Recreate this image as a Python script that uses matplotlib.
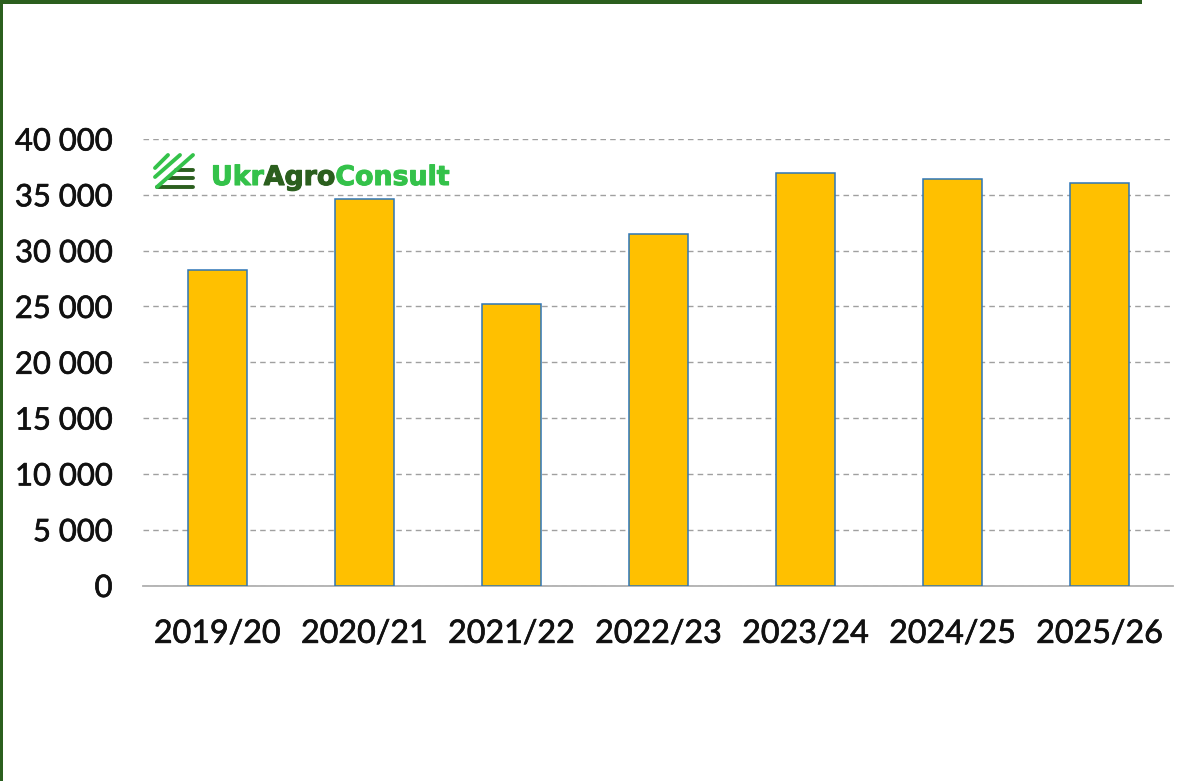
import matplotlib
matplotlib.use("Agg")
import matplotlib.pyplot as plt
import matplotlib.patheffects as pe
from matplotlib.lines import Line2D

# -----------------------------
# DATA
# -----------------------------
seasons = ["2019/20", "2020/21", "2021/22", "2022/23", "2023/24", "2024/25", "2025/26"]
values = [28270, 34630, 25220, 31500, 36960, 36420, 36070]
y_ticks = [0, 5000, 10000, 15000, 20000, 25000, 30000, 35000, 40000]
logo_parts = ["Ukr", "Agro", "Consult"]

W, H = 1188, 781
GREEN_DARK = "#2b5f1e"
GREEN_LIGHT = "#34c24a"

plt.rcParams["font.family"] = ["Lato", "DejaVu Sans"]

fig = plt.figure(figsize=(W / 100, H / 100), dpi=100, facecolor="white")
ax = fig.add_axes([143 / W, 1 - 585.5 / H, (1173 - 143) / W, (585.5 - 139) / H])

# -----------------------------
# BARS
# -----------------------------
ax.bar(seasons, values, width=0.4, color="#ffc000", edgecolor="#2e75b6", linewidth=1.1, zorder=3)

ax.set_xlim(-0.505, len(seasons) - 0.5)
ax.set_ylim(0, 40000)
ax.set_yticks(y_ticks)
ax.set_yticklabels([f"{v:,}".replace(",", " ") for v in y_ticks])
ax.yaxis.grid(True, linestyle=(0, (4, 3)), color="#a0a0a0", linewidth=1, zorder=0)
ax.tick_params(axis="both", length=0, labelcolor="#111111")
ax.tick_params(axis="x", pad=24, labelsize=23.2)
ax.tick_params(axis="y", pad=22, labelsize=22.3)
# slight stroke, the reference labels are heavier than Lato regular
for lab in ax.get_xticklabels() + ax.get_yticklabels():
    lab.set_path_effects([pe.withStroke(linewidth=0.5, foreground="#111111")])
for s in ["top", "left", "right"]:
    ax.spines[s].set_visible(False)
ax.spines["bottom"].set_color("#b0b0b0")
ax.spines["bottom"].set_linewidth(1.3)

# -----------------------------
# FRAME (top and left green edges)
# -----------------------------
fig.add_artist(plt.Rectangle((0, 1 - 4 / H), 1142 / W, 4 / H, transform=fig.transFigure, color=GREEN_DARK, lw=0))
fig.add_artist(plt.Rectangle((0, 0), 3 / W, 1, transform=fig.transFigure, color=GREEN_DARK, lw=0))

# -----------------------------
# LOGO
# -----------------------------
def logo_line(x0, y0, x1, y1, color):
    fig.add_artist(Line2D([x0 / W, x1 / W], [1 - y0 / H, 1 - y1 / H], color=color, lw=2.8,
                          solid_capstyle="round", transform=fig.transFigure, zorder=6))

logo_line(176, 170, 193, 170, GREEN_DARK)
logo_line(168, 178, 193, 178, GREEN_DARK)
logo_line(157, 187, 193, 187, GREEN_DARK)
logo_line(155, 168, 168, 155, GREEN_LIGHT)
logo_line(155, 177, 180, 155, GREEN_LIGHT)
logo_line(157, 187, 193, 155, GREEN_LIGHT)

fig.canvas.draw()
renderer = fig.canvas.get_renderer()
x_px = 211
for part, col in zip(logo_parts, [GREEN_LIGHT, GREEN_DARK, GREEN_LIGHT]):
    t = fig.text(x_px / W, 1 - 185 / H, part, color=col, fontsize=19.3, fontweight="bold",
                 family=["DejaVu Sans"], va="baseline", ha="left", zorder=6,
                 path_effects=[pe.withStroke(linewidth=0.8, foreground=col)])
    x_px += t.get_window_extent(renderer).width

fig.savefig("out.png", dpi=100, facecolor="white")
